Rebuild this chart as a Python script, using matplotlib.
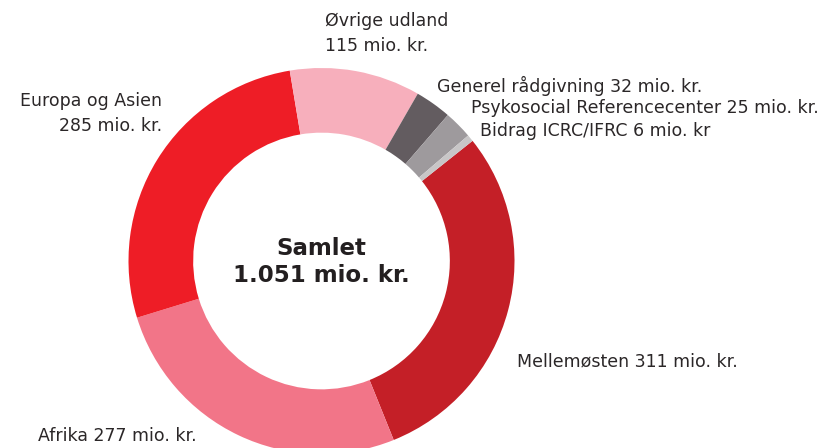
import matplotlib
matplotlib.use("Agg")
from matplotlib import pyplot as plt

# data, clockwise from the middle east slice
labels = ["Mellemøsten", "Afrika", "Europa og Asien", "Øvrige udland",
          "Generel rådgivning", "Psykosocial Referencecenter", "Bidrag ICRC/IFRC"]
values = [311, 277, 285, 115, 32, 25, 6]
colors = ["#C41F27", "#F27588", "#EE1D26", "#F7AFBC", "#635C60", "#9E9A9D", "#C8C6C7"]
total_text = "Samlet\n1.051 mio. kr."

W, H = 838, 448
fig = plt.figure(figsize=(W / 100, H / 100), dpi=100)
ax = fig.add_axes([0, 0, 1, 1])

cx, cy, r = 321.5, H - 261, 193
ax.pie(values, colors=colors, startangle=38.5, counterclock=False,
       center=(cx, cy), radius=r, frame=True,
       wedgeprops=dict(width=r * 0.335, linewidth=0))
ax.set_xlim(0, W)
ax.set_ylim(0, H)
ax.set_aspect("equal")
ax.axis("off")

txt = "#231F20"
fam = ["DejaVu Sans"]
fs = 12.5

ax.text(cx, H - 262, total_text, ha="center", va="center", fontsize=16.5,
        fontweight="bold", color=txt, family=fam, linespacing=1.2)

def lab(x, y, s, ha="left"):
    ax.text(x, H - y, s, ha=ha, va="center", fontsize=fs, color="#2b2728",
            family=fam, linespacing=1.5)

lab(325, 33, "Øvrige udland\n115 mio. kr.")
lab(437, 86, "Generel rådgivning 32 mio. kr.")
lab(471, 108, "Psykosocial Referencecenter 25 mio. kr.")
lab(480, 131, "Bidrag ICRC/IFRC 6 mio. kr")
lab(162, 113, "Europa og Asien\n285 mio. kr.", ha="right")
lab(517, 361, "Mellemøsten 311 mio. kr.")
lab(38, 436, "Afrika 277 mio. kr.")

fig.savefig("out.png", dpi=100)
